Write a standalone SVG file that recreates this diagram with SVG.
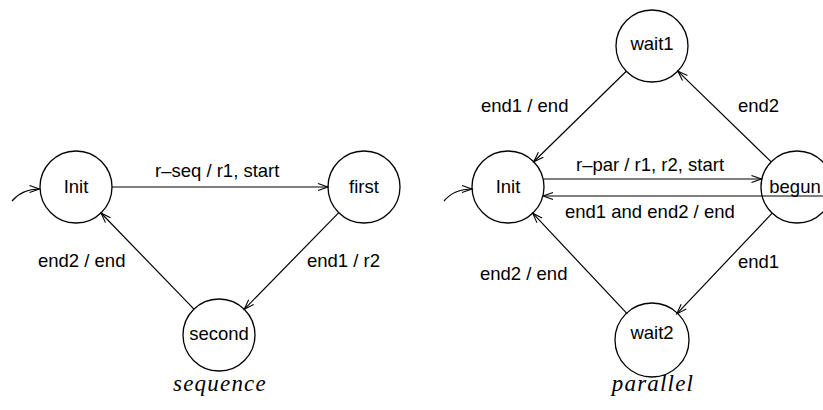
<svg xmlns="http://www.w3.org/2000/svg" width="823" height="410" viewBox="0 0 823 410">
  <style>
    .state circle { fill: #fff; stroke: #000; stroke-width: 1.3; }
    .state text { font-family: "Liberation Sans", Arial, sans-serif; font-size: 18.5px; text-anchor: middle; fill: #000; }
    .edge { fill: none; stroke: #000; stroke-width: 1.2; marker-end: url(#arrow); }
    .lbl { font-family: "Liberation Sans", Arial, sans-serif; font-size: 18.5px; fill: #000; }
    .title { font-family: "Liberation Serif", "Times New Roman", serif; font-style: italic; font-size: 23px; letter-spacing: 1.2px; text-anchor: middle; fill: #000; }
  </style>
  <defs>
    <marker id="arrow" markerUnits="userSpaceOnUse" markerWidth="14" markerHeight="10" refX="11" refY="4" orient="auto" overflow="visible">
      <path d="M1,0.5 L11,4 L1,7.5" fill="none" stroke="#000" stroke-width="1.1"/>
    </marker>
  </defs>

  <!-- sequence machine: states -->
  <g id="seq-init" class="state">
    <circle cx="76" cy="187" r="36"/>
    <text x="76" y="193">Init</text>
  </g>
  <g id="seq-first" class="state">
    <circle cx="364" cy="187" r="36"/>
    <text x="364" y="193">first</text>
  </g>
  <g id="seq-second" class="state">
    <circle cx="219" cy="335" r="36"/>
    <text x="219" y="340">second</text>
  </g>

  <!-- parallel machine: states -->
  <g id="par-init" class="state">
    <circle cx="508" cy="187" r="36"/>
    <text x="508" y="193">Init</text>
  </g>
  <g id="par-wait1" class="state">
    <circle cx="652" cy="46" r="36"/>
    <text x="652" y="50">wait1</text>
  </g>
  <g id="par-begun" class="state">
    <circle cx="797" cy="187" r="36"/>
    <text x="795" y="193">begun</text>
  </g>
  <g id="par-wait2" class="state">
    <circle cx="652" cy="340" r="37"/>
    <text x="652" y="339">wait2</text>
  </g>

  <!-- transitions -->
  <g id="connectors">
    <path class="edge" d="M12,201 Q22,189 39.5,189"/>
    <path class="edge" d="M112,187 L328,187"/>
    <path class="edge" d="M338.8,212.7 L244.2,309.3"/>
    <path class="edge" d="M194,309.1 L101,213"/>

    <path class="edge" d="M444,201 Q454,189 472,189"/>
    <path class="edge" d="M626.3,71.2 L533.7,161.8"/>
    <path class="edge" d="M771.2,161.9 L677.8,71.1"/>
    <path class="edge" d="M544,179 L761.5,179"/>
    <path class="edge" d="M823,196 L543,196"/>
    <path class="edge" d="M772.2,213.1 L676.8,313.9"/>
    <path class="edge" d="M627.3,313.8 L532.7,213.2"/>
  </g>

  <!-- transition labels -->
  <g id="labels">
    <text class="lbl" x="155" y="177">r–seq / r1, start</text>
    <text class="lbl" x="38" y="267">end2 / end</text>
    <text class="lbl" x="307" y="267">end1 / r2</text>

    <text class="lbl" x="481" y="112">end1 / end</text>
    <text class="lbl" x="738" y="112">end2</text>
    <text class="lbl" x="576" y="171">r–par / r1, r2, start</text>
    <text class="lbl" x="565" y="218">end1 and end2 / end</text>
    <text class="lbl" x="738" y="268">end1</text>
    <text class="lbl" x="480" y="280">end2 / end</text>
  </g>

  <!-- captions -->
  <text class="title" x="220" y="391">sequence</text>
  <text class="title" x="653" y="391">parallel</text>
</svg>
